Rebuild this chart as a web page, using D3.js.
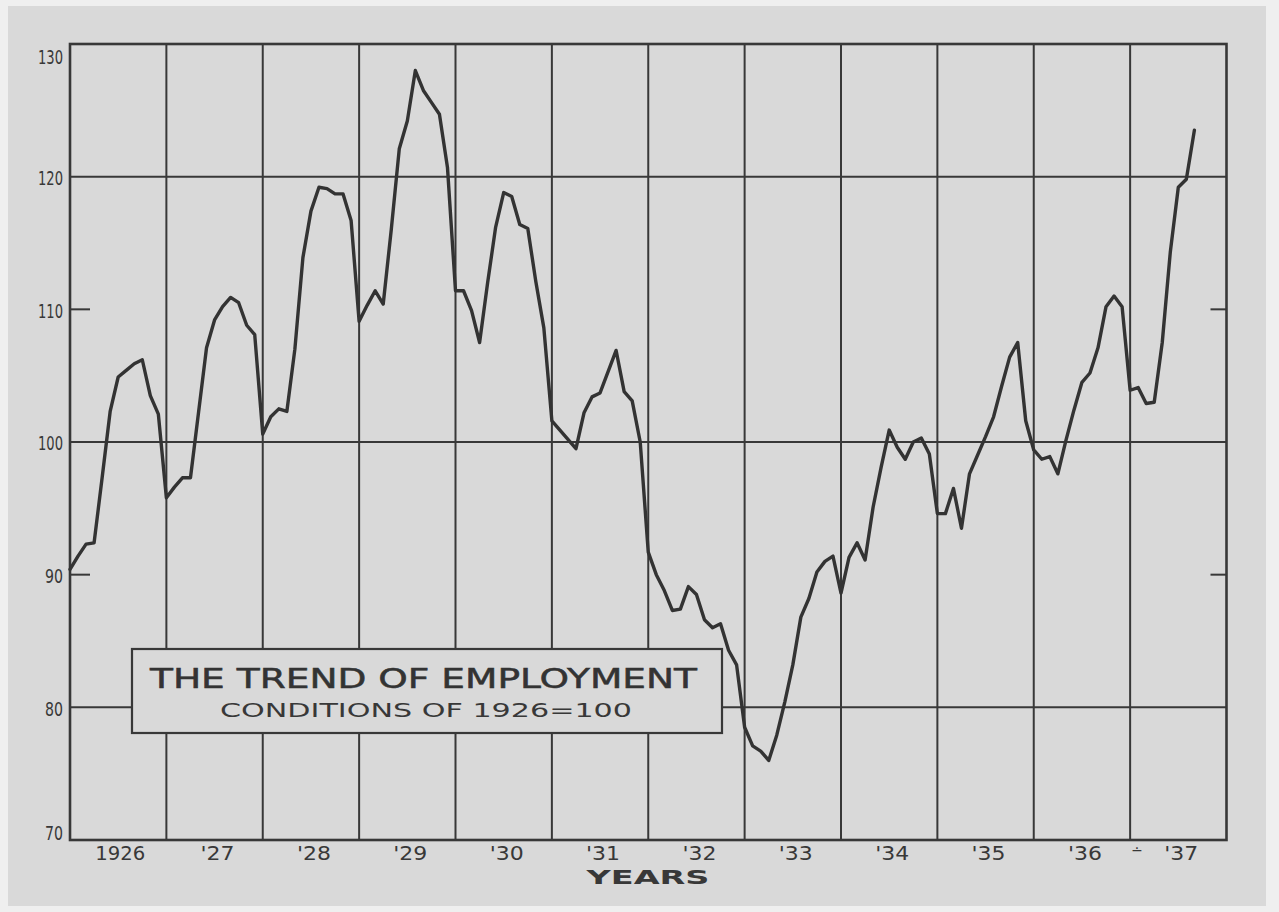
<!DOCTYPE html>
<html>
<head>
<meta charset="utf-8">
<script src="https://cdn.jsdelivr.net/npm/d3@7"></script>
<style>
  html, body { margin: 0; padding: 0; background: #f2f2f2; }
  svg { display: block; }
</style>
</head>
<body>
<svg id="chart" width="1279" height="912"></svg>
<script>
// ---- data (monthly employment index, 1926 = 100; first point = Jan 1926) ----
const values1926 = [90.4, 91.4, 92.3, 92.4, 97.3, 102.3, 104.9, 105.4, 105.9, 106.2, 103.5, 102.1];
const values1927 = [95.8, 96.6, 97.3, 97.3, 102.2, 107.1, 109.2, 110.2, 110.9, 110.5, 108.8, 108.1];
const values1928 = [100.6, 101.9, 102.5, 102.3, 107.0, 113.9, 117.4, 119.2, 119.1, 118.7, 118.7, 116.7];
const values1929 = [109.1, 110.3, 111.4, 110.4, 116.0, 122.1, 124.2, 128.0, 126.5, 125.6, 124.7, 120.7];
const values1930 = [111.4, 111.4, 109.9, 107.5, 112.0, 116.2, 118.8, 118.5, 116.4, 116.1, 112.1, 108.6];
const values1931 = [101.6, 100.9, 100.2, 99.5, 102.2, 103.4, 103.7, 105.3, 106.9, 103.8, 103.1, 100.0];
const values1932 = [91.7, 90.0, 88.8, 87.3, 87.4, 89.1, 88.5, 86.6, 86.0, 86.3, 84.3, 83.2];
const values1933 = [78.5, 77.1, 76.7, 76.0, 77.9, 80.4, 83.2, 86.8, 88.2, 90.2, 91.0, 91.4];
const values1934 = [88.6, 91.3, 92.4, 91.1, 95.1, 98.1, 100.9, 99.6, 98.7, 100.0, 100.3, 99.1];
const values1935 = [94.6, 94.6, 96.5, 93.5, 97.6, 99.0, 100.4, 101.9, 104.2, 106.4, 107.5, 101.6];
const values1936 = [99.4, 98.7, 98.9, 97.6, 100.1, 102.4, 104.5, 105.2, 107.1, 110.2, 111.0, 110.2];
const values1937 = [103.9, 104.1, 102.9, 103.0, 107.5, 114.3, 119.2, 119.8, 123.5];

const yearLabels = ["1926", "'27", "'28", "'29", "'30", "'31", "'32", "'33", "'34", "'35", "'36", "'37"];
const yTickLabels = [130, 120, 110, 100, 90, 80, 70];
const fullGridValues = [80, 100, 120];
const shortTickValues = [90, 110];
const titleText = "THE TREND OF EMPLOYMENT";
const subtitleText = "CONDITIONS OF 1926=100";
const xAxisTitle = "YEARS";

(function () {
// ---- build series ----
const series = [].concat(values1926, values1927, values1928, values1929, values1930, values1931,
                         values1932, values1933, values1934, values1935, values1936, values1937)
                 .map((v, i) => ({ m: i, v: v }));

// ---- layout ----
const W = 1279, H = 912;
const pLeft = 70, pRight = 1226.5, pTop = 44, pBottom = 840;
const ink = "#383838";
const paper = "#d9d9d9";

const svg = d3.select("#chart");

// paper
svg.append("rect").attr("x", 0).attr("y", 0).attr("width", W).attr("height", H).attr("fill", "#efefef");
svg.append("rect").attr("x", 8).attr("y", 6).attr("width", 1258).attr("height", 900).attr("fill", paper);

const x = d3.scaleLinear().domain([0, yearLabels.length * 12]).range([pLeft, pRight]);
const y = d3.scaleLinear().domain([70, 130]).range([pBottom, pTop]);

const g = svg.append("g");

// vertical year gridlines
g.selectAll("line.vgrid")
  .data(d3.range(1, yearLabels.length))
  .join("line")
  .attr("class", "vgrid")
  .attr("x1", d => x(d * 12)).attr("x2", d => x(d * 12))
  .attr("y1", pTop).attr("y2", pBottom)
  .attr("stroke", ink).attr("stroke-width", 2);

// full horizontal gridlines
g.selectAll("line.hgrid")
  .data(fullGridValues)
  .join("line")
  .attr("class", "hgrid")
  .attr("x1", pLeft).attr("x2", pRight)
  .attr("y1", d => y(d)).attr("y2", d => y(d))
  .attr("stroke", ink).attr("stroke-width", 2);

// short ticks on both sides
shortTickValues.forEach(v => {
  g.append("line").attr("x1", pLeft).attr("x2", pLeft + 20)
    .attr("y1", y(v)).attr("y2", y(v)).attr("stroke", ink).attr("stroke-width", 2);
  g.append("line").attr("x1", pRight - 16).attr("x2", pRight)
    .attr("y1", y(v)).attr("y2", y(v)).attr("stroke", ink).attr("stroke-width", 2);
});

// frame
g.append("rect")
  .attr("x", pLeft).attr("y", pTop)
  .attr("width", pRight - pLeft).attr("height", pBottom - pTop)
  .attr("fill", "none").attr("stroke", ink).attr("stroke-width", 2.6);

// y-axis labels
g.selectAll("text.ylab")
  .data(yTickLabels)
  .join("text")
  .attr("class", "ylab")
  .attr("x", pLeft - 7)
  .attr("y", d => y(d) + (d === 130 ? 13 : d === 70 ? -7 : 1))
  .attr("dy", "0.36em")
  .attr("text-anchor", "end")
  .attr("font-family", "DejaVu Sans, sans-serif")
  .attr("font-size", 20)
  .attr("fill", ink)
  .attr("textLength", d => String(d).length === 3 ? 25 : 18)
  .attr("lengthAdjust", "spacingAndGlyphs")
  .text(d => d);

// x-axis year labels
g.selectAll("text.xlab")
  .data(yearLabels)
  .join("text")
  .attr("class", "xlab")
  .attr("x", (d, i) => x(i * 12 + 6) + (i === 0 ? 2 : 3))
  .attr("y", 860)
  .attr("text-anchor", "middle")
  .attr("font-family", "DejaVu Sans, sans-serif")
  .attr("font-size", 19)
  .attr("fill", ink)
  .attr("textLength", (d, i) => i === 0 ? 50 : 34)
  .attr("lengthAdjust", "spacingAndGlyphs")
  .text(d => d);

// small mark near '37
g.append("text")
  .attr("x", 1137).attr("y", 855)
  .attr("text-anchor", "middle")
  .attr("font-family", "DejaVu Sans, sans-serif")
  .attr("font-size", 14)
  .attr("fill", ink)
  .text("\u2238");

// x-axis title
g.append("text")
  .attr("x", 648).attr("y", 884)
  .attr("text-anchor", "middle")
  .attr("font-family", "DejaVu Sans, sans-serif")
  .attr("font-weight", "bold")
  .attr("font-size", 20)
  .attr("fill", ink)
  .attr("textLength", 123)
  .attr("lengthAdjust", "spacingAndGlyphs")
  .text(xAxisTitle);

// data line
const line = d3.line().x(d => x(d.m)).y(d => y(d.v)).curve(d3.curveLinear);
g.append("path")
  .datum(series)
  .attr("d", line)
  .attr("fill", "none")
  .attr("stroke", "#333")
  .attr("stroke-width", 3.4)
  .attr("stroke-linejoin", "round")
  .attr("stroke-linecap", "round");

// title box
const box = g.append("g");
box.append("rect")
  .attr("x", 132).attr("y", 649)
  .attr("width", 590).attr("height", 84)
  .attr("fill", paper).attr("stroke", ink).attr("stroke-width", 2.2);
box.append("text")
  .attr("x", 150).attr("y", 688)
  .attr("font-family", "DejaVu Sans, sans-serif")
  .attr("font-size", 27)
  .attr("fill", "#333")
  .attr("stroke", "#333").attr("stroke-width", 0.5)
  .attr("textLength", 547)
  .attr("lengthAdjust", "spacingAndGlyphs")
  .text(titleText);
box.append("text")
  .attr("x", 220).attr("y", 717)
  .attr("font-family", "DejaVu Sans, sans-serif")
  .attr("font-size", 20)
  .attr("fill", ink)
  .attr("textLength", 412)
  .attr("lengthAdjust", "spacingAndGlyphs")
  .text(subtitleText);
})();
</script>
</body>
</html>
